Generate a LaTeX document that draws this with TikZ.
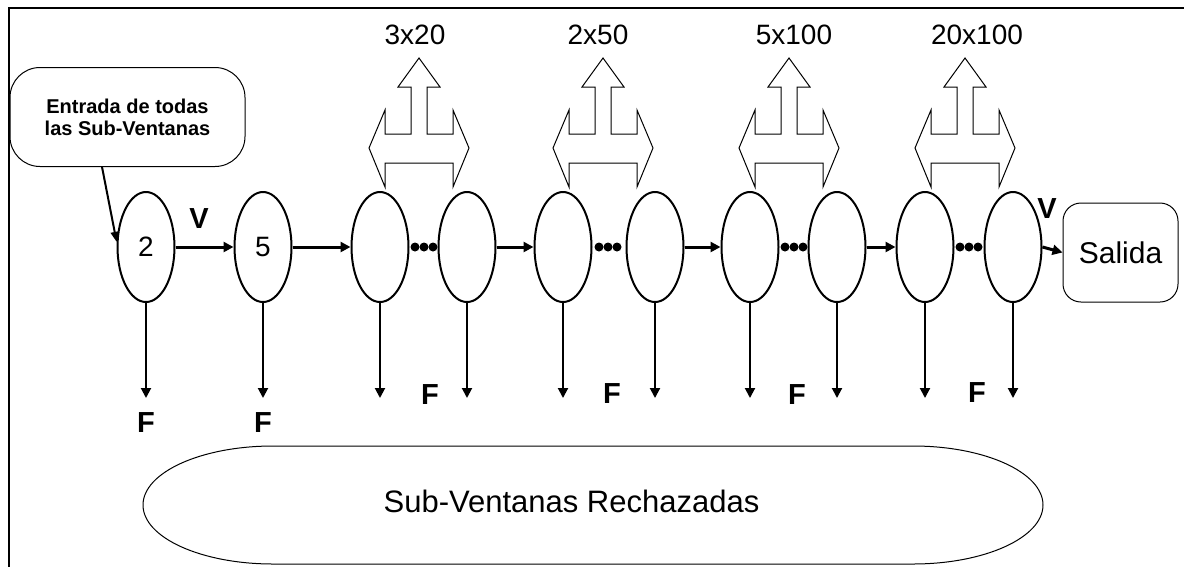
\documentclass[tikz,border=0pt]{standalone}
\usepackage{fontspec}
\setmainfont{Liberation Sans}
\usetikzlibrary{shapes.geometric,arrows.meta}
\tikzset{
  stage/.style={ellipse, draw, line width=2pt, minimum width=57pt, minimum height=110pt, inner sep=0pt, font=\fontsize{28}{28}\selectfont},
  flow/.style={line width=3pt, -{Triangle[length=10pt,width=10pt]}},
  rejarrow/.style={line width=2pt, -{Triangle[length=10pt,width=10pt]}},
  boldlbl/.style={font=\fontsize{29}{29}\selectfont\bfseries, inner sep=0pt},
  cntlbl/.style={font=\fontsize{28}{28}\selectfont, inner sep=0pt},
  splitarrow/.pic={
    \draw[line width=1pt, fill=white] (0,58) -- (21,87) -- (8,87) -- (8,134) -- (34,134) -- (34,110) -- (50,148) -- (34,187) -- (34,163)
      -- (-34,163) -- (-34,187) -- (-50,148) -- (-34,110) -- (-34,134) -- (-8,134) -- (-8,87) -- (-21,87) -- cycle;
  }
}
\begin{document}
\begin{tikzpicture}[x=1pt,y=-1pt]
\useasboundingbox (0,0) rectangle (1184,566);
% frame
\draw[line width=2.5pt] (9,570) -- (9,8) -- (1190,8);

% input box
\node[draw, line width=1pt, rounded corners=30pt, minimum width=235pt, minimum height=99pt, align=center,
      font=\fontsize{20}{22}\selectfont\bfseries] (in) at (127.5,117) {Entrada de todas\\las Sub-Ventanas};

% stages
\node[stage] (e2) at (146,247) {2};
\node[stage] (e5) at (263,247) {5};
\node[stage] (g1a) at (380,247) {};
\node[stage] (g1b) at (467,247) {};
\node[stage] (g2a) at (563,247) {};
\node[stage] (g2b) at (655,247) {};
\node[stage] (g3a) at (750,247) {};
\node[stage] (g3b) at (837,247) {};
\node[stage] (g4a) at (925,247) {};
\node[stage] (g4b) at (1013,247) {};

% output box
\node[draw, line width=1pt, rounded corners=18pt, minimum width=115pt, minimum height=99pt,
      font=\fontsize{30}{30}\selectfont] (out) at (1120.5,252.5) {Salida};

% input arrow
\draw[line width=2pt, -{Triangle[length=10pt,width=8pt]}] (in.243) -- (e2.170);

% flow arrows
\draw[flow] (e2.east) -- (e5.west);
\draw[flow] (e5.east) -- (g1a.west);
\draw[flow] (g1b.east) -- (g2a.west);
\draw[flow] (g2b.east) -- (g3a.west);
\draw[flow] (g3b.east) -- (g4a.west);
\draw[flow] (g4b.east) -- (out.west);

% dots
\foreach \c in {424,608,794,969} {
  \fill (\c-9,247) circle[radius=4.5pt];
  \fill (\c,247) circle[radius=4.5pt];
  \fill (\c+9,247) circle[radius=4.5pt];
}

% rejection arrows
\foreach \n/\x in {e2/146,e5/263,g1a/380,g1b/467,g2a/563,g2b/655,g3a/750,g3b/837,g4a/925,g4b/1013} {
  \coordinate (f\n) at (\x,398);
  \draw[rejarrow] (\n.south) -- (f\n);
}

% labels V / F
\node[boldlbl] (v1) at (199,219) {V};
\node[boldlbl] (v2) at (1047,209) {V};
\node[boldlbl] (fl1) at (146,423) {F};
\node[boldlbl] (fl2) at (263,423) {F};
\node[boldlbl] (fl3) at (430,395) {F};
\node[boldlbl] (fl4) at (612,394) {F};
\node[boldlbl] (fl5) at (797,395) {F};
\node[boldlbl] (fl6) at (977,393) {F};

% split arrows and counts
\pic at (419,0) {splitarrow};
\pic at (603,0) {splitarrow};
\pic at (789,0) {splitarrow};
\pic at (965,0) {splitarrow};
\node[cntlbl] (c1) at (415,35) {3x20};
\node[cntlbl] (c2) at (598,35) {2x50};
\node[cntlbl] (c3) at (794,35) {5x100};
\node[cntlbl] (c4) at (977,35) {20x100};

% rejected stadium
\draw[line width=1pt] (273,446) -- (913,446) arc[start angle=90, end angle=-90, x radius=130pt, y radius=59pt]
  -- (273,564) arc[start angle=270, end angle=90, x radius=130pt, y radius=59pt] -- cycle;
\node[font=\fontsize{31}{31}\selectfont, inner sep=0pt] (rej) at (571.5,501) {Sub-Ventanas Rechazadas};
\end{tikzpicture}
\end{document}
